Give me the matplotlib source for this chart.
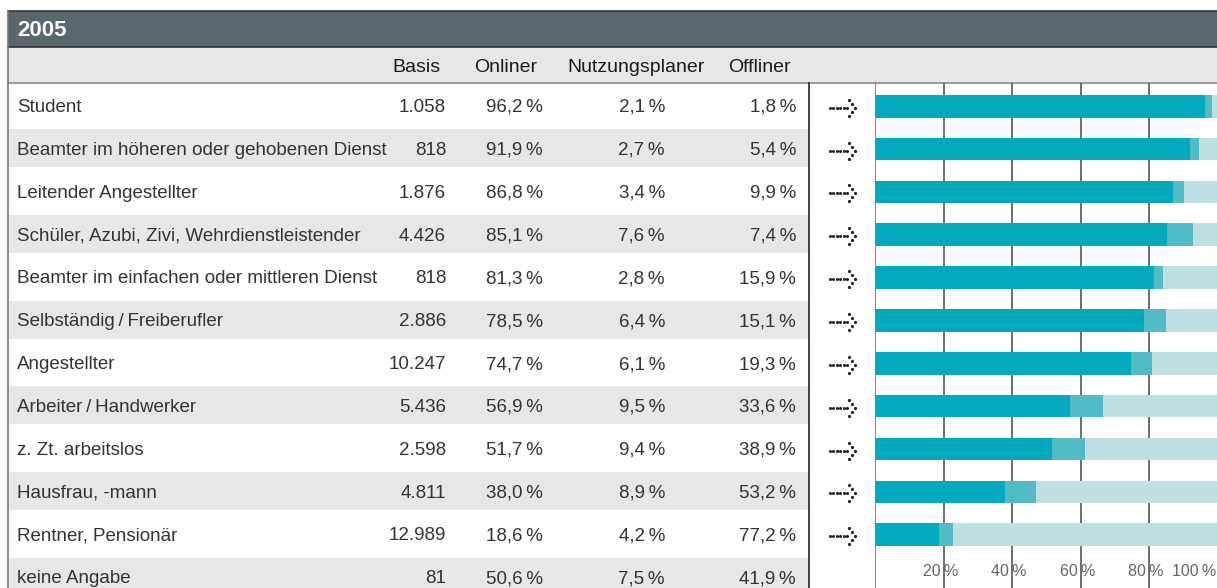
import matplotlib.pyplot as plt

plt.rcParams['font.family'] = ['Liberation Sans', 'DejaVu Sans']

# Daten
kategorien = ["Student", "Beamter im höheren oder gehobenen Dienst", "Leitender Angestellter",
              "Schüler, Azubi, Zivi, Wehrdienstleistender", "Beamter im einfachen oder mittleren Dienst",
              "Selbständig\u2009/\u2009Freiberufler", "Angestellter", "Arbeiter\u2009/\u2009Handwerker",
              "z. Zt. arbeitslos", "Hausfrau, -mann", "Rentner, Pensionär", "keine Angabe"]
basis = [1058, 818, 1876, 4426, 818, 2886, 10247, 5436, 2598, 4811, 12989, 81]
onliner = [96.2, 91.9, 86.8, 85.1, 81.3, 78.5, 74.7, 56.9, 51.7, 38.0, 18.6, 50.6]
planer = [2.1, 2.7, 3.4, 7.6, 2.8, 6.4, 6.1, 9.5, 9.4, 8.9, 4.2, 7.5]
offliner = [1.8, 5.4, 9.9, 7.4, 15.9, 15.1, 19.3, 33.6, 38.9, 53.2, 77.2, 41.9]
spalten = ["Basis", "Onliner", "Nutzungsplaner", "Offliner"]
ticks = [20, 40, 60, 80, 100]
n_balken = 11  # keine Angabe ohne Balken

W, H = 1217, 588
ROW0 = 83
C0, ROWH = 105.5, 42.85
c_on, c_pl, c_off = '#03a9bc', '#52bcc6', '#c0dfe3'
txt = '#333333'
fs = 13.5


def pct(v):
    return f"{v:.1f}".replace('.', ',') + "\u2009%"


fig = plt.figure(figsize=(W / 100, H / 100), dpi=100)
ax = fig.add_axes([0, 0, 1, 1])
ax.set_xlim(0, W)
ax.set_ylim(H, 0)
ax.axis('off')

# Kopfzeile
ax.fill_between([8, W], 11, 47, color='#5b676f', lw=0)
ax.plot([8, W], [11, 11], color='#333333', lw=1.2)
ax.plot([8, W], [47, 47], color='#333333', lw=1.2)
ax.text(17, 31, "2005", color='white', fontsize=16, fontweight='bold', va='center')
ax.fill_between([8, W], 47, ROW0, color='#e6e7e8', lw=0)
ax.plot([8, W], [ROW0, ROW0], color='#8a8a8a', lw=1.2)
ax.plot([8, 8], [11, H], color='#777777', lw=1.2)

hy = 67
ax.text(440, hy, spalten[0], ha='right', va='center', fontsize=14, color='#1a1a1a')
ax.text(506, hy, spalten[1], ha='center', va='center', fontsize=14, color='#1a1a1a')
ax.text(636, hy, spalten[2], ha='center', va='center', fontsize=14, color='#1a1a1a')
ax.text(759, hy, spalten[3], ha='center', va='center', fontsize=14, color='#1a1a1a')

# Zeilen
mitten = [C0 + ROWH * i for i in range(len(kategorien))]
for i, name in enumerate(kategorien):
    yc = mitten[i]
    ty = yc + 2
    if i % 2 == 1:
        ax.fill_between([9, 809], yc - 19, yc + 19, color='#e6e7e8', lw=0)
    ax.text(17, ty, name, va='center', fontsize=fs, color=txt)
    ax.text(446, ty, f"{basis[i]:,}".replace(',', '.'), ha='right', va='center', fontsize=fs, color=txt)
    ax.text(543, ty, pct(onliner[i]), ha='right', va='center', fontsize=fs, color=txt)
    ax.text(665, ty, pct(planer[i]), ha='right', va='center', fontsize=fs, color=txt)
    ax.text(796, ty, pct(offliner[i]), ha='right', va='center', fontsize=fs, color=txt)
    if i < n_balken:
        # gepunkteter Pfeil
        ay = yc + 2.2
        ax.plot([829.5, 833, 836.5, 840, 843.5, 847], [ay] * 6, ls='none',
                marker='o', ms=1.2, color='#222222')
        ax.plot([849, 852, 855, 852, 849], [ay - 8, ay - 4, ay, ay + 4, ay + 8],
                ls='none', marker='o', ms=1.3, color='#222222')

ax.plot([809, 809], [ROW0, H], color='#222222', lw=1.2)

# Balkendiagramm
bx = fig.add_axes([875 / W, 0, (1218 - 875) / W, (H - ROW0) / H])
bx.set_xlim(0, 100)
bx.set_ylim(H, ROW0)
bx.axis('off')
for t in ticks[:-1]:
    bx.axvline(t, color='#555555', lw=1.2, zorder=1)
bx.axvline(0, color='#8a8a8a', lw=1.5, zorder=1)
ypos = [m + 0.7 for m in mitten[:n_balken]]
bh = 22.7
bx.barh(ypos, onliner[:n_balken], height=bh, color=c_on, zorder=2)
bx.barh(ypos, planer[:n_balken], left=onliner[:n_balken], height=bh, color=c_pl, zorder=2)
links = [a + b for a, b in zip(onliner, planer)]
bx.barh(ypos, offliner[:n_balken], left=links[:n_balken], height=bh, color=c_off, zorder=2)
tky = 572
for t in ticks[:-1]:
    bx.text(t - 1, tky, f"{t}\u2009%", ha='center', va='center', fontsize=11.5, color='#666666')
bx.text(99.5, tky - 1, "100\u2009%", ha='right', va='center', fontsize=11.5, color='#666666')

fig.savefig('out.png', dpi=100)
